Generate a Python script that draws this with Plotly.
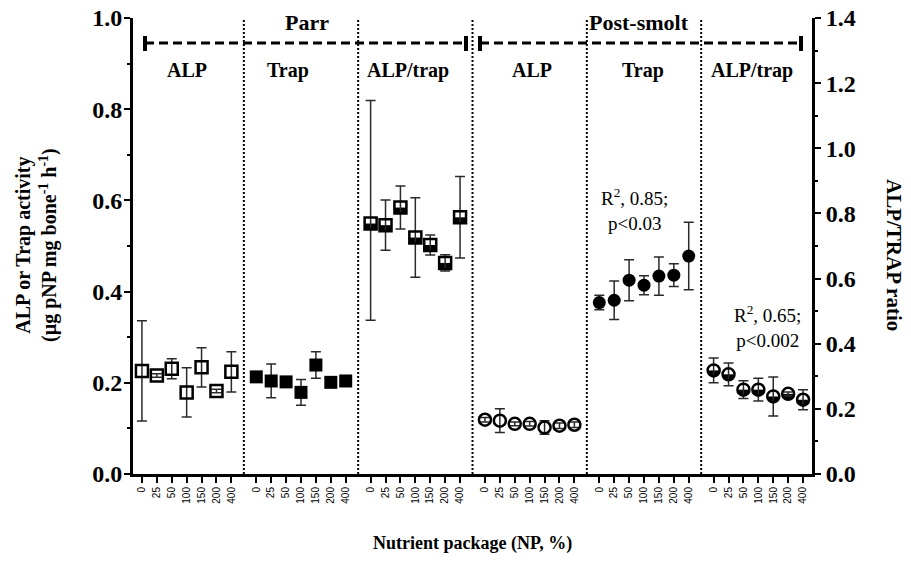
import plotly.graph_objects as go

# ---------------- data ----------------
np_levels = ["0", "25", "50", "100", "150", "200", "400"]
group_names = ["ALP", "Trap", "ALP/trap", "ALP", "Trap", "ALP/trap"]
stage_names = ["Parr", "Post-smolt"]

parr_alp = [0.226, 0.216, 0.231, 0.179, 0.234, 0.182, 0.224]
parr_alp_err = [0.110, 0.004, 0.022, 0.054, 0.043, 0.004, 0.044]
parr_trap = [0.213, 0.204, 0.202, 0.179, 0.239, 0.201, 0.204]
parr_trap_err = [0.004, 0.037, 0.004, 0.028, 0.029, 0.004, 0.004]
parr_ratio = [0.769, 0.764, 0.818, 0.726, 0.703, 0.648, 0.788]
parr_ratio_err_up = [0.378, 0.077, 0.066, 0.122, 0.031, 0.025, 0.125]
parr_ratio_err_down = [0.297, 0.077, 0.066, 0.122, 0.031, 0.025, 0.125]
ps_alp = [0.119, 0.117, 0.110, 0.110, 0.102, 0.106, 0.108]
ps_alp_err = [0.005, 0.026, 0.004, 0.005, 0.015, 0.006, 0.006]
ps_trap = [0.376, 0.381, 0.425, 0.414, 0.434, 0.436, 0.478]
ps_trap_err = [0.016, 0.042, 0.045, 0.021, 0.042, 0.025, 0.074]
ps_ratio = [0.318, 0.306, 0.259, 0.259, 0.238, 0.246, 0.228]
ps_ratio_err = [0.038, 0.035, 0.027, 0.035, 0.060, 0.006, 0.031]

# ---------------- layout helpers (page pixel coords) ----------------
PAGE_OFF = 8              # default body margin of the html page
FIG_W, FIG_H = 911 - PAGE_OFF, 575 - PAGE_OFF
L, R, T, B = 133, 812, 18, 474   # plot area in page pixels
PERIOD = 7.671  # group period in category units (7 points + gap)


def fx(px):
    return (px - L) / (R - L)


def fy(py):
    return (B - py) / (B - T)


def xpos(g):
    return [g * PERIOD + i for i in range(len(np_levels))]


SERIF = "Liberation Serif, Times New Roman, serif"
SANS = "Liberation Sans, Arial, sans-serif"
ERRC = "#2a2a2a"


def err(up, down=None):
    d = dict(type="data", array=up, visible=True, color=ERRC, thickness=1.5, width=5)
    if down is not None:
        d["symmetric"] = False
        d["arrayminus"] = down
    return d


fig = go.Figure()

# Parr ALP (open squares)
fig.add_trace(go.Scatter(x=xpos(0), y=parr_alp, mode="markers", error_y=err(parr_alp_err),
                         marker=dict(symbol="square-open", size=12, color="black", line=dict(width=2.5, color="black")),
                         showlegend=False))
# Parr Trap (filled squares)
fig.add_trace(go.Scatter(x=xpos(1), y=parr_trap, mode="markers", error_y=err(parr_trap_err),
                         marker=dict(symbol="square", size=13, color="black"), showlegend=False))
# Post-smolt ALP (open circles)
fig.add_trace(go.Scatter(x=xpos(3), y=ps_alp, mode="markers", error_y=err(ps_alp_err),
                         marker=dict(symbol="circle-open", size=12, color="black", line=dict(width=2.5, color="black")),
                         showlegend=False))
# Post-smolt Trap (filled circles)
fig.add_trace(go.Scatter(x=xpos(4), y=ps_trap, mode="markers", error_y=err(ps_trap_err),
                         marker=dict(symbol="circle", size=13, color="black"), showlegend=False))

# Ratio series (right axis): half-filled markers built from 3 layers
for g, vals, eu, ed, sym in [(2, parr_ratio, parr_ratio_err_up, parr_ratio_err_down, "square"),
                             (5, ps_ratio, ps_ratio_err, None, "circle")]:
    fig.add_trace(go.Scatter(x=xpos(g), y=vals, mode="markers", yaxis="y2",
                             marker=dict(symbol=sym, size=12, color="black"), showlegend=False))
    fig.add_trace(go.Scatter(x=xpos(g), y=vals, mode="markers", yaxis="y3",
                             marker=dict(symbol="line-ew", size=12 / 1.4, color="white",
                                         line=dict(width=6, color="white")), showlegend=False))
    fig.add_trace(go.Scatter(x=xpos(g), y=vals, mode="markers", yaxis="y4", error_y=err(eu, ed),
                             marker=dict(symbol=sym + "-open", size=12, color="black",
                                         line=dict(width=2.5, color="black")), showlegend=False))

shapes = []
# vertical dotted separators
for g in range(5):
    xs = g * PERIOD + 6 + (PERIOD - 6) / 2
    shapes.append(dict(type="line", xref="x", yref="y", x0=xs, x1=xs, y0=0, y1=1.0,
                       line=dict(color="black", width=2, dash="2px,2px")))
# top dashed brackets
for x0, x1 in [(145, 466), (480, 801)]:
    shapes.append(dict(type="line", xref="paper", yref="paper", x0=fx(x0), x1=fx(x1), y0=fy(43), y1=fy(43),
                       line=dict(color="black", width=3, dash="9px,5px")))
    for xc in (x0, x1):
        shapes.append(dict(type="line", xref="paper", yref="paper", x0=fx(xc), x1=fx(xc), y0=fy(36), y1=fy(51),
                           line=dict(color="black", width=4)))

ann = []
for txt, px in zip(stage_names, [307, 639]):
    ann.append(dict(text=txt, x=fx(px), y=fy(22), xref="paper", yref="paper", showarrow=False,
                    font=dict(family=SERIF, size=22, color="black", weight="bold"), xanchor="center", yanchor="middle"))
for txt, px in zip(group_names, [187, 288, 408, 532, 643, 752]):
    ann.append(dict(text=txt, x=fx(px), y=fy(70), xref="paper", yref="paper", showarrow=False,
                    font=dict(family=SERIF, size=20, color="black", weight="bold"), xanchor="center", yanchor="middle"))
ann.append(dict(text="R<sup>2</sup>, 0.85;<br>p&lt;0.03", x=fx(634), y=fy(209), xref="paper", yref="paper",
                showarrow=False, font=dict(family=SERIF, size=19, color="black"), align="center",
                xanchor="center", yanchor="middle"))
ann.append(dict(text="R<sup>2</sup>, 0.65;<br>p&lt;0.002", x=fx(767), y=fy(326), xref="paper", yref="paper",
                showarrow=False, font=dict(family=SERIF, size=19, color="black"), align="center",
                xanchor="center", yanchor="middle"))
ann.append(dict(text="ALP or Trap activity<br>(µg pNP mg bone<sup>-1</sup> h<sup>-1</sup>)", x=fx(36), y=fy(245),
                xref="paper", yref="paper", showarrow=False, textangle=-90,
                font=dict(family=SERIF, size=20, color="black", weight="bold"), align="center",
                xanchor="center", yanchor="middle"))
ann.append(dict(text="ALP/TRAP ratio", x=fx(894), y=fy(255), xref="paper", yref="paper", showarrow=False,
                textangle=90, font=dict(family=SERIF, size=21, color="black", weight="bold"),
                xanchor="center", yanchor="middle"))
ann.append(dict(text="Nutrient package (NP, %)", x=fx(472), y=fy(543), xref="paper", yref="paper",
                showarrow=False, font=dict(family=SERIF, size=18, color="black", weight="bold"),
                xanchor="center", yanchor="middle"))

tickvals = [v for g in range(6) for v in xpos(g)]
ticktext = np_levels * 6
last = 5 * PERIOD + 6

yfont = dict(family=SERIF, size=24, color="black", weight="bold")
shift = 3 * 1.4 / (B - T)

fig.update_layout(
    width=FIG_W, height=FIG_H,
    margin=dict(l=L - PAGE_OFF, r=PAGE_OFF + FIG_W - R, t=T - PAGE_OFF, b=PAGE_OFF + FIG_H - B, autoexpand=False),
    plot_bgcolor="white", paper_bgcolor="white", showlegend=False,
    xaxis=dict(range=[-0.6, last + 0.6], tickvals=tickvals, ticktext=ticktext, tickangle=-90, automargin=False,
               tickfont=dict(family=SANS, size=10, color="black"), ticks="outside", ticklen=6, tickwidth=2,
               tickcolor="black", showline=True, linewidth=3, linecolor="black", showgrid=False, zeroline=False,
               ticklabeloverflow="allow"),
    yaxis=dict(range=[0, 1.0], dtick=0.2, tickformat=".1f", tickfont=yfont, ticks="outside", ticklen=6,
               tickwidth=2, tickcolor="black", showline=True, linewidth=3, linecolor="black", showgrid=False,
               zeroline=False, automargin=False, ticklabeloverflow="allow", ticklabelstandoff=-3,
               minor=dict(dtick=0.1, ticks="outside", ticklen=3, tickwidth=2, tickcolor="black")),
    yaxis2=dict(range=[0, 1.4], dtick=0.2, tickformat=".1f", tickfont=yfont, ticks="outside", ticklen=6,
                tickwidth=2, tickcolor="black", showline=True, linewidth=3, linecolor="black", showgrid=False,
                zeroline=False, overlaying="y", side="right", automargin=False, ticklabeloverflow="allow",
                minor=dict(dtick=0.1, ticks="outside", ticklen=3, tickwidth=2, tickcolor="black")),
    yaxis3=dict(range=[-shift, 1.4 - shift], overlaying="y", visible=False, showgrid=False, zeroline=False),
    yaxis4=dict(range=[0, 1.4], overlaying="y", visible=False, showgrid=False, zeroline=False),
    shapes=shapes, annotations=ann,
)

fig.write_html("out.html")
